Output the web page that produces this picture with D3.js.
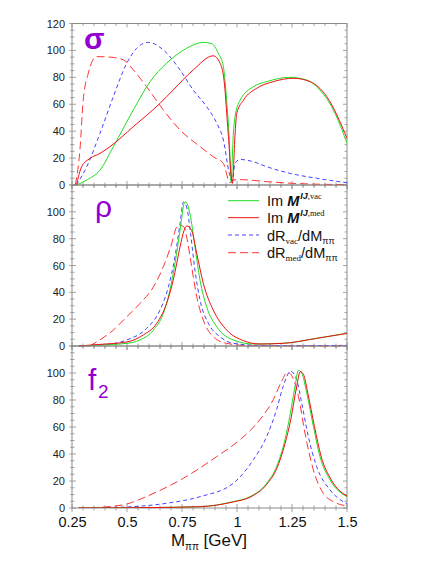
<!DOCTYPE html>
<html><head><meta charset="utf-8">
<script src="https://cdn.jsdelivr.net/npm/d3@7"></script>
<style>body{margin:0;background:#fff}svg{display:block}text{font-family:"Liberation Sans",Arial,sans-serif}</style>
</head><body><svg id="c" width="436" height="564"></svg>
<script>
// ---- data: [M (GeV), value] ----
const sigmaVac = [[0.271,0],[0.32,4],[0.377,11],[0.438,28.5],[0.529,55.8],[0.605,76.8],[0.68,90.5],[0.771,101.6],[0.847,106],[0.885,105],[0.915,97.9],[0.938,88],[0.953,63],[0.965,33.5],[0.973,2.5],[0.983,37],[0.991,50.8],[1.014,63],[1.074,73],[1.135,76.8],[1.24,80],[1.317,78],[1.377,70.6],[1.438,55.8],[1.5,31]];
const sigmaMed = [[0.27,0],[0.294,13.6],[0.332,19.8],[0.377,23.5],[0.423,28.5],[0.529,43.4],[0.65,60.7],[0.71,70.6],[0.801,85.5],[0.892,96],[0.923,90.5],[0.941,78],[0.96,38.4],[0.979,1.2],[0.991,37],[0.999,53.3],[1.029,63],[1.09,71.9],[1.165,76.8],[1.256,79.3],[1.332,76.8],[1.408,65.7],[1.5,34.7]];
const sigmaRvac = [[0.27,0],[0.317,13.6],[0.377,38.4],[0.438,65.7],[0.499,90.5],[0.544,101.6],[0.597,106],[0.665,100.4],[0.741,85.5],[0.801,70.6],[0.862,58.2],[0.908,45.9],[0.938,33.5],[0.965,8.7],[0.978,3],[0.991,16],[1.014,19],[1.074,17.3],[1.135,13.6],[1.24,8.7],[1.362,5],[1.5,1.7]];
const sigmaRmed = [[0.265,0],[0.286,26],[0.301,63],[0.324,83],[0.362,95.4],[0.423,95],[0.483,93],[0.529,85.5],[0.589,73],[0.665,55.8],[0.741,40.9],[0.832,28.5],[0.892,21],[0.938,16],[0.968,1.7],[0.983,3.7],[1.014,4],[1.135,2.5],[1.286,1],[1.5,0.3]];

const rhoVac = [[0.28,0],[0.377,0.7],[0.499,2],[0.559,4.5],[0.62,11.9],[0.665,24.3],[0.695,41.6],[0.718,61.5],[0.741,86],[0.76,106.5],[0.766,107.5],[0.786,98.7],[0.809,73.8],[0.832,49],[0.862,29.2],[0.908,14.3],[0.983,4.5],[1.074,1.5],[1.21,2],[1.362,5.7],[1.5,9.4]];
const rhoMed = [[0.28,0],[0.377,1.2],[0.499,3],[0.574,8.2],[0.635,16.9],[0.68,31.7],[0.71,49],[0.741,73.8],[0.759,86],[0.772,89.5],[0.794,86],[0.817,69],[0.847,46.6],[0.892,26.8],[0.953,11.9],[1.029,4],[1.104,1.5],[1.21,2],[1.362,5.7],[1.5,9.4]];
const rhoRvac = [[0.28,0],[0.4,1],[0.499,4.5],[0.589,13.1],[0.65,26.8],[0.688,44],[0.718,66.4],[0.741,91.2],[0.756,107.3],[0.771,103.7],[0.789,83.8],[0.809,56.5],[0.832,34.2],[0.87,16.9],[0.923,6.9],[0.983,2],[1.1,0.5],[1.3,0.3],[1.5,0.5]];
const rhoRmed = [[0.33,0],[0.377,4.5],[0.438,11.9],[0.499,21.8],[0.559,31.7],[0.62,44],[0.665,59],[0.703,76.3],[0.726,88.7],[0.741,90],[0.759,88.7],[0.771,81.3],[0.794,59],[0.817,36.7],[0.847,19.3],[0.892,6.9],[0.953,2],[1.05,0.3],[1.5,0]];

const f2Vac = [[0.28,0],[0.6,0.3],[0.832,1],[0.983,4.7],[1.059,8.4],[1.135,18.3],[1.18,30.7],[1.218,50.6],[1.24,67.9],[1.264,90.2],[1.279,102],[1.294,100],[1.317,85.3],[1.347,60.5],[1.377,38.1],[1.423,20.8],[1.5,8.4]];
const f2Med = [[0.28,0],[0.6,0.3],[0.832,1],[0.983,4.5],[1.059,8],[1.135,17.5],[1.18,29],[1.218,47.5],[1.245,66],[1.27,89],[1.288,101],[1.302,99],[1.322,85],[1.352,60.5],[1.382,38.5],[1.428,21],[1.5,8.8]];
const f2Rvac = [[0.28,0],[0.4,0.3],[0.529,1],[0.68,3.5],[0.832,8.4],[0.983,18.3],[1.074,35.7],[1.135,53],[1.18,72.9],[1.21,90.2],[1.244,101.3],[1.271,95.2],[1.294,77.8],[1.324,53],[1.362,30.7],[1.423,13.4],[1.5,3]];
const f2Rmed = [[0.28,0],[0.377,0.5],[0.499,3],[0.605,9.7],[0.756,22],[0.908,38.1],[1.014,50.6],[1.104,65.4],[1.165,80.3],[1.203,93.9],[1.229,100.6],[1.249,98],[1.279,82.8],[1.309,55.5],[1.347,28.3],[1.392,10.9],[1.438,4.7],[1.5,1.5]];

const xTicks = [0.25,0.5,0.75,1,1.25,1.5];
const xTickLabels = ["0.25","0.5","0.75","1","1.25","1.5"];
const yTicksTop = [0,20,40,60,80,100,120];
const yTicksOther = [0,20,40,60,80,100];
const legendLabels = ["vac","med"];

// ---- layout ----
const svg = d3.select("#c");
const L = 72, R = 347;
const panels = [
  {top:23.5, bot:185, label:"σ", ticks:yTicksTop, series:[sigmaVac,sigmaMed,sigmaRvac,sigmaRmed]},
  {top:185, bot:346, label:"ρ", ticks:yTicksOther, series:[rhoVac,rhoMed,rhoRvac,rhoRmed]},
  {top:346, bot:508, label:"f", sub:"2", ticks:yTicksOther, series:[f2Vac,f2Med,f2Rvac,f2Rmed]}
];
const styles = [
  {stroke:"#22dd22", dash:null, w:1},
  {stroke:"#ee1111", dash:null, w:1},
  {stroke:"#4444ff", dash:"4,3", w:1},
  {stroke:"#ff3333", dash:"8,4", w:1}
];
const x = d3.scaleLinear().domain([0.25,1.5]).range([L,R]);
const frameCol = "#8c8c8c";

svg.append("defs").append("clipPath").attr("id","clipAll")
  .append("rect").attr("x",L).attr("y",23.5).attr("width",R-L).attr("height",508-23.5);

panels.forEach((p,i)=>{
  const y = d3.scaleLinear().domain([0,120]).range([p.bot,p.top]);
  const g = svg.append("g");
  const xMinor = d3.range(0.25,1.5001,0.05);
  xMinor.forEach(v=>{
    const major = Math.abs((v-0.25)/0.25 - Math.round((v-0.25)/0.25))<1e-6;
    const len = major?4:2.5;
    g.append("line").attr("x1",x(v)).attr("x2",x(v)).attr("y1",p.bot-len).attr("y2",p.bot+len)
      .attr("stroke",frameCol).attr("stroke-width",0.8);
    g.append("line").attr("x1",x(v)).attr("x2",x(v)).attr("y1",p.top).attr("y2",p.top+len)
      .attr("stroke",frameCol).attr("stroke-width",0.8);
  });
  d3.range(0,120.01,5).forEach(v=>{
    const major = v%20===0;
    const len = major?4:2.5;
    g.append("line").attr("x1",L-len*0.7).attr("x2",L+len).attr("y1",y(v)).attr("y2",y(v))
      .attr("stroke",frameCol).attr("stroke-width",0.8);
    g.append("line").attr("x1",R-len).attr("x2",R).attr("y1",y(v)).attr("y2",y(v))
      .attr("stroke",frameCol).attr("stroke-width",0.8);
  });
  const ax = d3.axisLeft(y).tickValues(p.ticks).tickSize(0).tickPadding(7).tickFormat(d3.format("d"));
  const axg = svg.append("g").attr("transform",`translate(${L},0)`).call(ax);
  axg.select(".domain").remove();
  axg.selectAll("text").attr("font-size",11).attr("fill","#222").attr("font-family","Liberation Sans, Arial, sans-serif");
  g.append("rect").attr("x",L).attr("y",p.top).attr("width",R-L).attr("height",p.bot-p.top)
    .attr("fill","none").attr("stroke",frameCol).attr("stroke-width",1);
  const line = d3.line().x(d=>x(d[0])).y(d=>y(d[1])).curve(d3.curveMonotoneX);
  const cg = svg.append("g").attr("clip-path","url(#clipAll)");
  [3,2,0,1].forEach(k=>{
    const s = styles[k];
    cg.append("path").attr("d",line(p.series[k])).attr("fill","none")
      .attr("stroke",s.stroke).attr("stroke-width",s.w).attr("stroke-dasharray",s.dash);
  });
  const lt = svg.append("text").attr("fill","#9400d3").attr("font-size",30)
    .attr("font-family","Liberation Sans, Arial, sans-serif");
  if(i===0){ lt.attr("x",84).attr("y",49).attr("font-weight","bold").text(p.label); }
  if(i===1){ lt.attr("x",95).attr("y",217).text(p.label); }
  if(i===2){ lt.attr("x",88).attr("y",390).text(p.label);
    svg.append("text").attr("fill","#9400d3").attr("font-size",19).attr("x",98).attr("y",398).text(p.sub); }
});

const xa = d3.axisBottom(x).tickValues(xTicks).tickSize(0).tickPadding(9).tickFormat((d,i)=>xTickLabels[i]);
const xag = svg.append("g").attr("transform",`translate(0,508)`).call(xa);
xag.select(".domain").remove();
xag.selectAll("text").attr("font-size",14.5).attr("fill","#111").attr("font-family","Liberation Sans, Arial, sans-serif");

const xt = svg.append("text").attr("x",209).attr("y",546).attr("text-anchor","middle").attr("font-size",17).attr("fill","#111");
xt.append("tspan").text("M");
xt.append("tspan").attr("font-size",10).attr("dy",4).text("ππ");
xt.append("tspan").attr("dy",-4).text(" [GeV]");

const legY = [200.7,217.7,235,252.7];
legY.forEach((yy,k)=>{
  const s = styles[k];
  svg.append("line").attr("x1",228).attr("x2",259).attr("y1",yy).attr("y2",yy)
    .attr("stroke",s.stroke).attr("stroke-width",1).attr("stroke-dasharray",s.dash);
  const t = svg.append("text").attr("x",267).attr("y",yy+5.5).attr("font-size",14.5).attr("fill","#111");
  if(k<2){
    t.append("tspan").text("Im ");
    t.append("tspan").attr("font-weight","bold").attr("font-style","italic").text("M");
    t.append("tspan").attr("font-weight","bold").attr("font-style","italic").attr("font-size",9).attr("dy",-7).attr("dx",1).text("IJ");
    t.append("tspan").attr("font-size",8.5).attr("font-family","Liberation Serif, Times New Roman, serif").text(","+legendLabels[k]);
  } else {
    t.append("tspan").text("dR");
    t.append("tspan").attr("font-size",9).attr("font-family","Liberation Serif, Times New Roman, serif").attr("dy",3).text(legendLabels[k-2]);
    t.append("tspan").attr("dy",-3).text("/dM");
    t.append("tspan").attr("font-size",9).attr("dy",3).text("ππ");
  }
});
</script></body></html>
